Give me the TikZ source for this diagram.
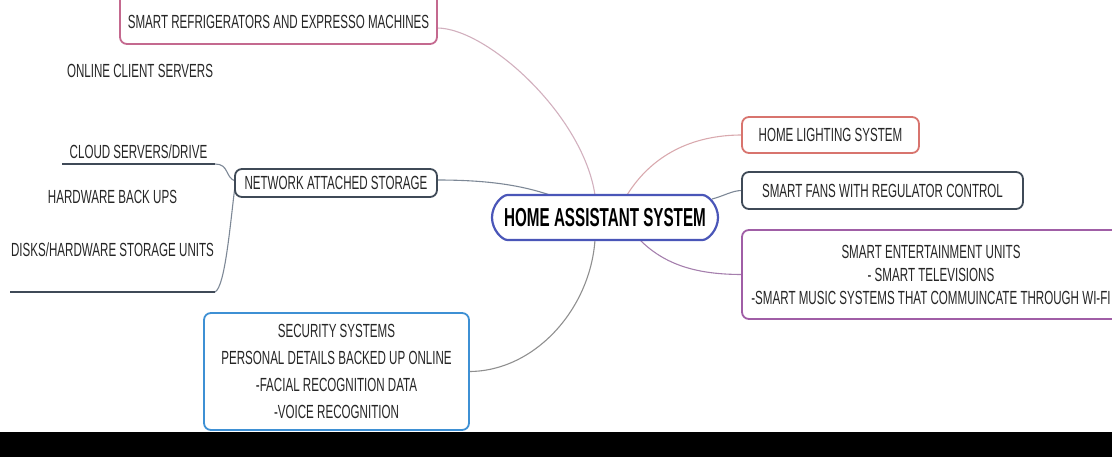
\documentclass[tikz,border=0pt]{standalone}
\usepackage{fontspec}
\setmainfont{Liberation Sans}[FakeStretch=0.61]
\newfontfamily\hubfont{Liberation Sans}[FakeStretch=0.585]
\usetikzlibrary{shapes.misc,backgrounds}
\definecolor{frigcol}{HTML}{C4698F}
\definecolor{lightcol}{HTML}{D8746E}
\definecolor{natcol}{HTML}{3F4A57}
\definecolor{hubcol}{HTML}{4A56B8}
\definecolor{entcol}{HTML}{A05EA6}
\definecolor{seccol}{HTML}{3E90D4}
\definecolor{frigline}{HTML}{D2B0BE}
\definecolor{natline}{HTML}{7D8896}
\definecolor{lightline}{HTML}{D9A9AE}
\definecolor{entline}{HTML}{A57FAD}
\definecolor{secline}{HTML}{8F8F8F}
\definecolor{txt}{HTML}{262626}

\begin{document}
\begin{tikzpicture}[x=1pt,y=-1pt,
    topic/.style={draw,line width=1.8pt,rounded corners=7pt,fill=white,inner sep=0pt,outer sep=0pt,align=center,text=txt,font=\fontsize{19}{22}\selectfont},
    leaf/.style={inner sep=0pt,outer sep=0pt,align=center,text=txt,font=\fontsize{19}{20}\selectfont},
    link/.style={line width=1.1pt},
    bar/.style={line width=2.2pt,natcol}]
  \useasboundingbox (0,0) rectangle (1112,457);
  \clip (0,0) rectangle (1112,457);

  \node[topic,rounded rectangle,draw=hubcol,line width=2.2pt,minimum width=226pt,minimum height=45pt,text=black,font=\fontsize{26}{28}\hubfont\bfseries](home) at (605,217.5){HOME ASSISTANT SYSTEM};

  \node[topic,draw=frigcol,anchor=south,minimum width=317pt,inner ysep=15pt,text height=37pt,text depth=0pt](frig) at (278.5,44){SMART REFRIGERATORS AND EXPRESSO MACHINES};
  \node[leaf](online) at (140,71){ONLINE CLIENT SERVERS};

  \node[topic,draw=natcol,minimum width=202pt,minimum height=28pt](nas) at (336,183){NETWORK ATTACHED STORAGE};
  \node[leaf,minimum width=153pt,minimum height=24pt](cloud) at (138.5,152){CLOUD SERVERS/DRIVE};
  \node[leaf,minimum width=205pt,minimum height=137pt](disks) at (112.5,223.5){HARDWARE BACK UPS\\[33pt]DISKS/HARDWARE STORAGE UNITS};
  \draw[bar] (cloud.south west) -- (cloud.south east);
  \draw[bar] (disks.south west) -- (disks.south east);

  \node[topic,draw=seccol,minimum width=265pt,minimum height=117pt,font=\fontsize{19}{27}\selectfont](sec) at (336.5,371.5){SECURITY SYSTEMS\\PERSONAL DETAILS BACKED UP ONLINE\\-FACIAL RECOGNITION DATA\\-VOICE RECOGNITION};

  \node[topic,draw=lightcol,minimum width=177pt,minimum height=36pt](light) at (830.5,135){HOME LIGHTING SYSTEM};
  \node[topic,draw=natcol,minimum width=281pt,minimum height=37pt](fans) at (882.5,190.5){SMART FANS WITH REGULATOR CONTROL};
  \node[topic,draw=entcol,minimum width=378pt,minimum height=89pt,font=\fontsize{19}{23}\selectfont](ent) at (931,274.5){SMART ENTERTAINMENT UNITS\\- SMART TELEVISIONS\\-SMART MUSIC SYSTEMS THAT COMMUINCATE THROUGH WI-FI};

  \begin{pgfonlayer}{background}
    \draw[link,frigline] ([yshift=16pt]frig.south east) .. controls +(50,0) and +(-12,-80) .. ([xshift=-10pt]home.north);
    \draw[link,natline] ([yshift=3pt]nas.east) .. controls +(50,0) and +(-30,-10) .. ([xshift=-55pt]home.north);
    \draw[link,natline] (cloud.south east) .. controls +(14,0) and +(-10,-4) .. ([yshift=2pt]nas.west);
    \draw[link,natline] (disks.south east) .. controls +(10,-5) and +(-5,40) .. ([yshift=-3pt]nas.west);
    \draw[link,secline] ([xshift=-10pt]home.south) .. controls +(-5,70) and +(65,0) .. (sec.east);
    \draw[link,lightline] ([xshift=22pt]home.north) .. controls +(25,-40) and +(-50,0) .. (light.west);
    \draw[link,natline] ([xshift=107pt,yshift=-4pt]home.north) .. controls +(12,-3) and +(-10,0) .. (fans.west);
    \draw[link,entline] ([xshift=35pt]home.south) .. controls +(25,25) and +(-45,0) .. (ent.west);
  \end{pgfonlayer}

  \fill[black] (0,432) rectangle (1112,457);
\end{tikzpicture}
\end{document}
